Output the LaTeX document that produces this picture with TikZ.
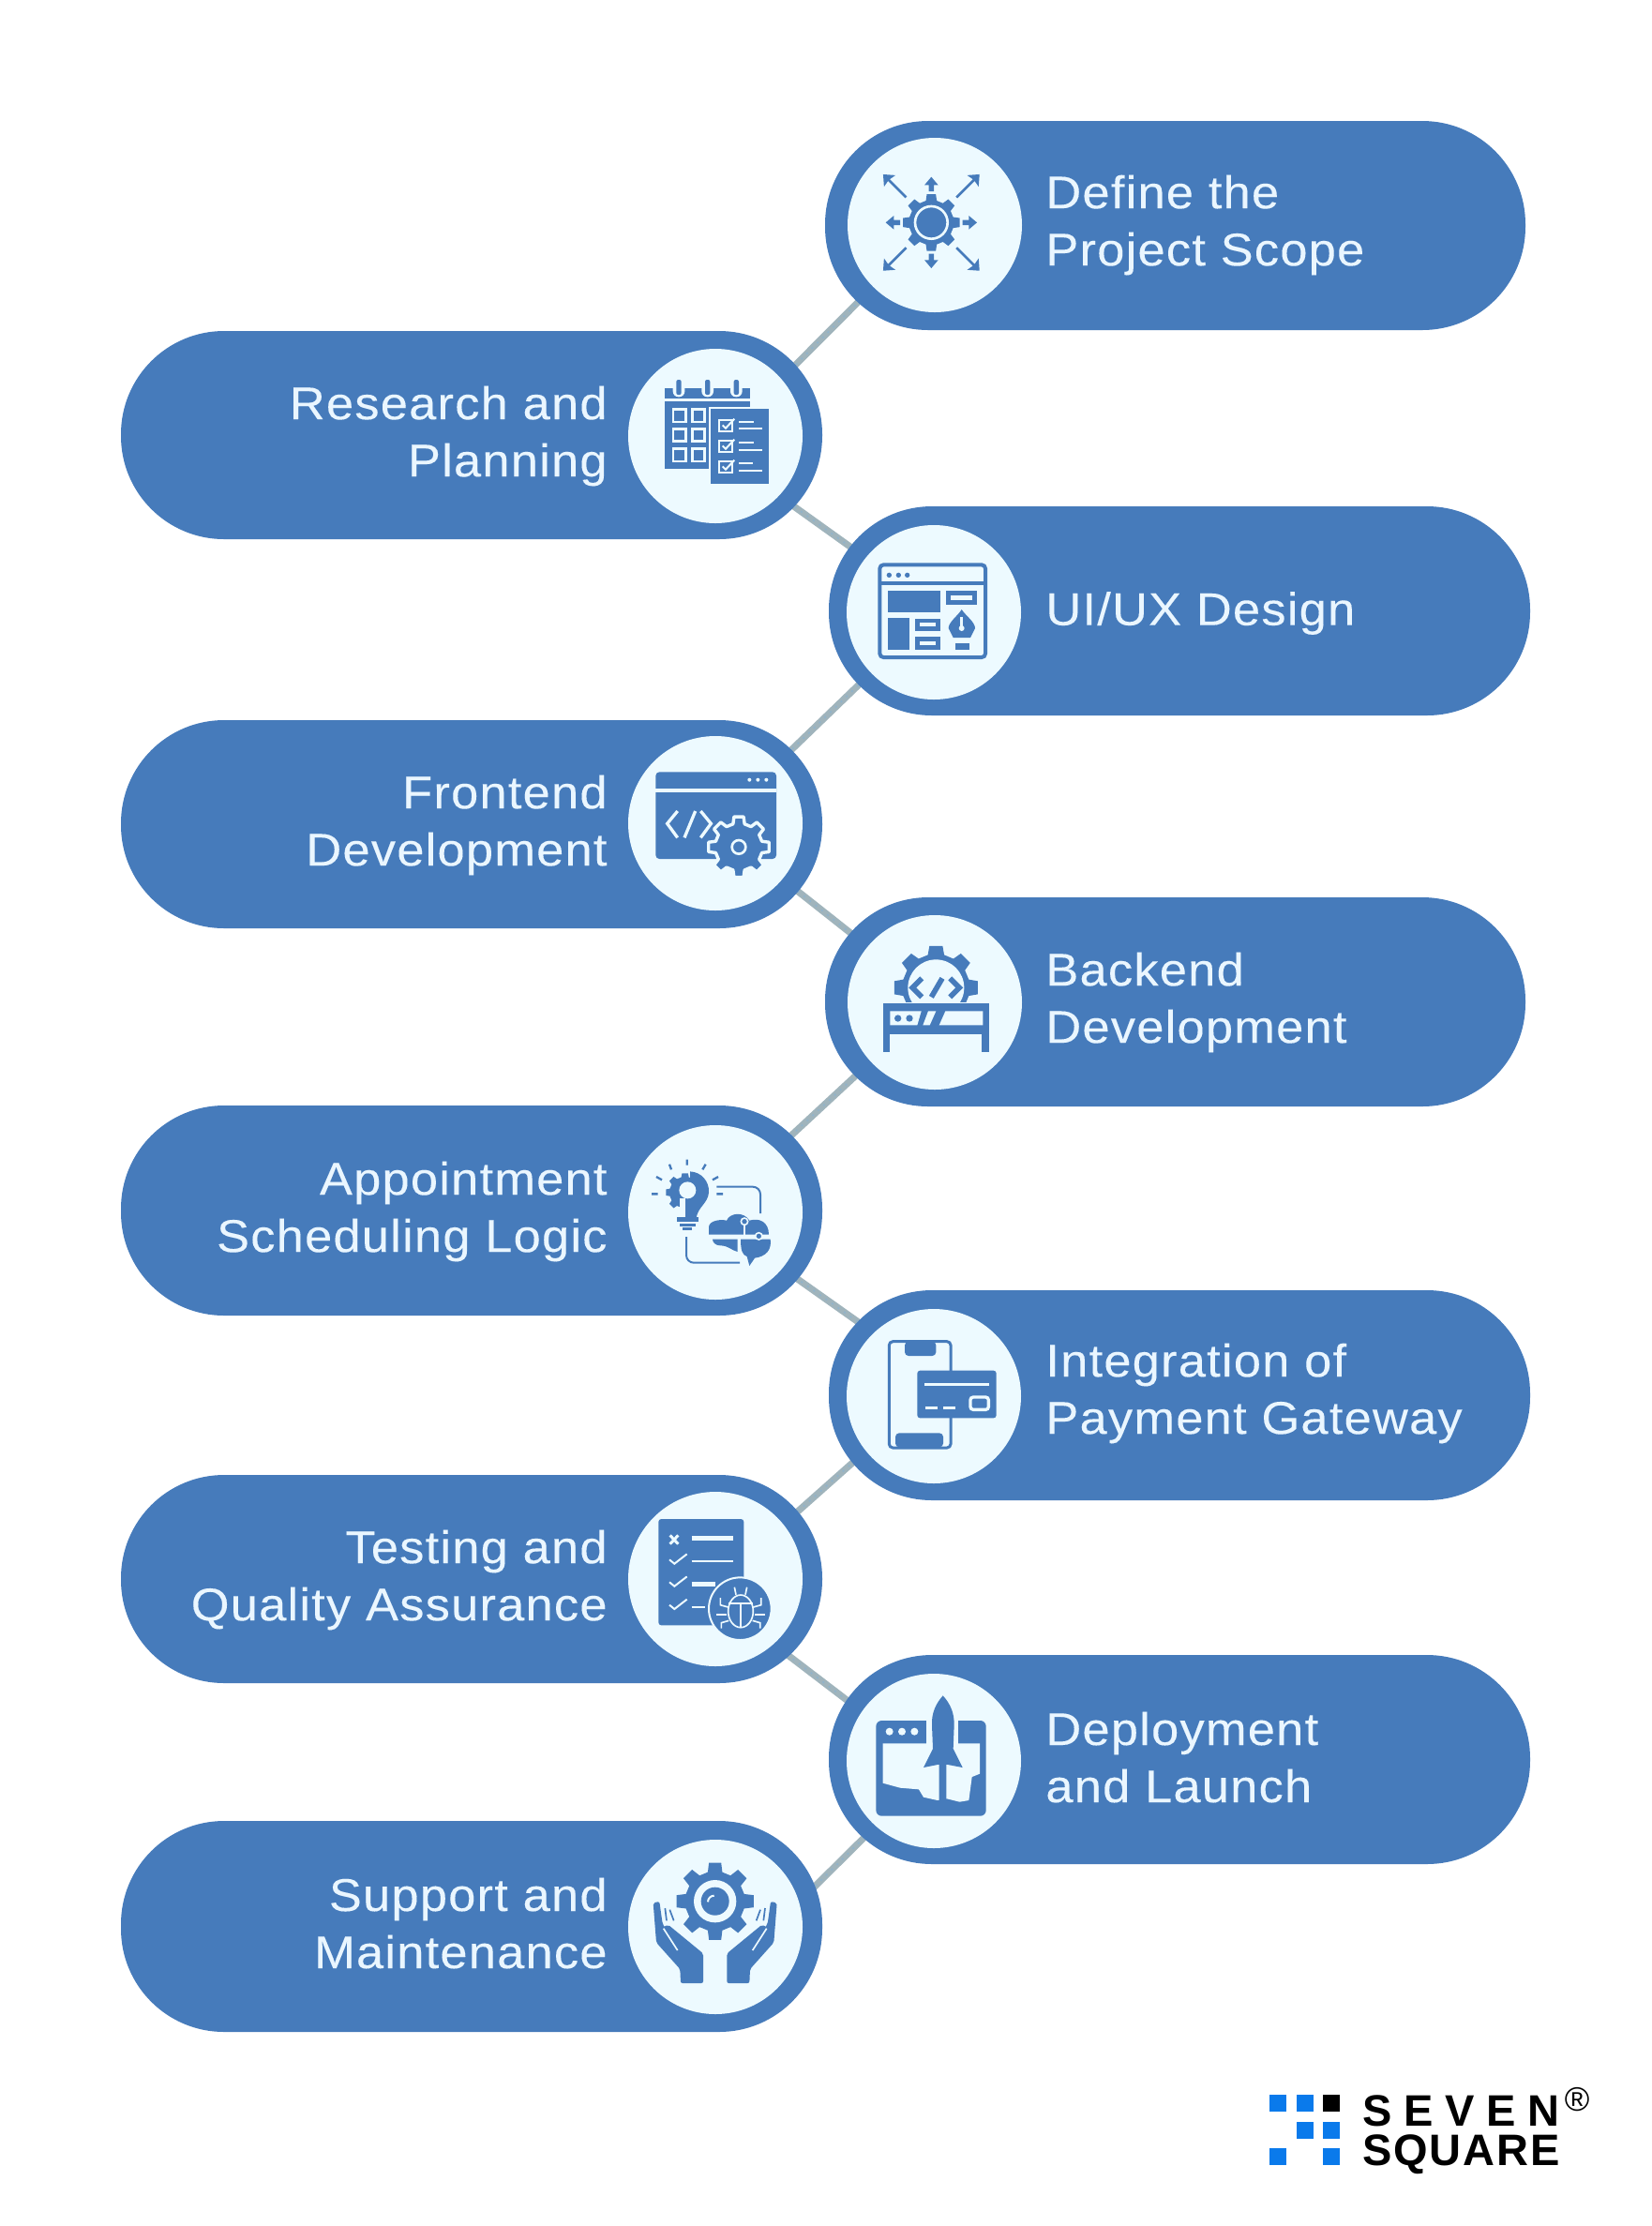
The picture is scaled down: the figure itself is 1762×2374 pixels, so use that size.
\documentclass[tikz,border=0pt]{standalone}
\usepackage{fontspec}
\usetikzlibrary{calc,backgrounds}
\setmainfont{Liberation Sans}[LetterSpace=2.5,FakeStretch=1.07,FakeBold=0.15]
\newfontfamily\logofont{Liberation Sans}
\definecolor{pbl}{HTML}{467BBB}
\definecolor{cb}{HTML}{EDFAFF}
\definecolor{txt}{HTML}{EAF6FF}
\definecolor{lnk}{HTML}{A0B4BC}
\definecolor{lnkd}{HTML}{8FB3CC}
\definecolor{sq}{HTML}{0A7AEB}
\tikzset{
 pill/.style={rectangle,fill=pbl,draw=none,rounded corners=55pt,inner sep=0pt,minimum width=#1},
 disc/.style={circle,fill=cb,draw=none,inner sep=0pt,minimum size=93pt},
 lbl/.style={text=txt,inner sep=0pt,font=\fontsize{24.5}{30.5}\selectfont},
 lbr/.style={lbl,anchor=west,align=left},
 lbll/.style={lbl,anchor=east,align=right},
 conn/.style={draw=lnk,line width=3.6pt,postaction={draw=lnkd,line width=.8pt,dash pattern=on 1pt off 3pt}},
 zm/.style={x=0.16667pt,y=-0.16667pt},
 ic/.style={fill=pbl,draw=none},
 cf/.style={fill=cb,draw=none},
 sb/.style={draw=pbl,line width=#1/6*1pt,fill=none},
 sc/.style={draw=cb,line width=#1/6*1pt,fill=none},
 lsq/.style={fill=sq,draw=none},
 logot/.style={inner sep=0pt,anchor=base west,text=black,font=\logofont\bfseries\fontsize{23.5}{23.5}\selectfont},
}
\newcommand{\gearpath}[5]{%
 ({#1+#4*cos(#5-14)},{#2+#4*sin(#5-14)})
 \foreach \k in {0,...,7}{
  -- ({#1+#4*cos(#5+\k*45-14)},{#2+#4*sin(#5+\k*45-14)})
  -- ({#1+#3*cos(#5+\k*45-9)},{#2+#3*sin(#5+\k*45-9)})
  -- ({#1+#3*cos(#5+\k*45+9)},{#2+#3*sin(#5+\k*45+9)})
  -- ({#1+#4*cos(#5+\k*45+14)},{#2+#4*sin(#5+\k*45+14)})
 } -- cycle}
\begin{document}
\begin{tikzpicture}[x=0.5pt,y=-0.5pt]
\useasboundingbox (0,0) rectangle (1762,2374);
% pills
\node[pill=373.5pt,minimum height=111.5pt] (p1) at (1253.5,240.5) {};
\node[pill=374pt,minimum height=111pt] (p2) at (503,464) {};
\node[pill=374pt,minimum height=111.5pt] (p3) at (1258,651.5) {};
\node[pill=374pt,minimum height=111pt] (p4) at (503,879) {};
\node[pill=373.5pt,minimum height=111.5pt] (p5) at (1253.5,1068.5) {};
\node[pill=374pt,minimum height=112pt] (p6) at (503,1291) {};
\node[pill=374pt,minimum height=112pt] (p7) at (1258,1488) {};
\node[pill=374pt,minimum height=111pt] (p8) at (503,1684) {};
\node[pill=374pt,minimum height=111.5pt] (p9) at (1258,1876.5) {};
\node[pill=374pt,minimum height=112.5pt] (p10) at (503,2054.5) {};
% discs
\node[disc] (c1) at (997,240) {};
\node[disc] (c2) at (763,465) {};
\node[disc] (c3) at (996,653) {};
\node[disc] (c4) at (763,878) {};
\node[disc] (c5) at (997,1069) {};
\node[disc] (c6) at (763,1293) {};
\node[disc] (c7) at (996,1489) {};
\node[disc] (c8) at (763,1684) {};
\node[disc] (c9) at (996,1878) {};
\node[disc] (c10) at (763,2055) {};
% connectors
\begin{pgfonlayer}{background}
\draw[conn] (c1.center) -- ($(c2.center)+(0,10)$);
\draw[conn] ($(c2.center)+(0,15)$) -- ($(c3.center)+(0,-6)$);
\draw[conn] (c3.center) -- (c4.center);
\draw[conn] ($(c4.center)+(0,3)$) -- ($(c5.center)+(0,-3)$);
\draw[conn] (c5.center) -- ($(c6.center)+(0,-7)$);
\draw[conn] ($(c6.center)+(0,9)$) -- ($(c7.center)+(0,-22)$);
\draw[conn] ($(c7.center)+(0,-6)$) -- ($(c8.center)+(0,6)$);
\draw[conn] ($(c8.center)+(0,22)$) -- ($(c9.center)+(0,6)$);
\draw[conn] ($(c9.center)+(0,8)$) -- ($(c10.center)+(0,62)$);
\end{pgfonlayer}
% labels
\node[lbr] (t1) at (1115,240) {Define the\\Project Scope};
\node[lbll] (t2) at (648,465) {Research and\\Planning};
\node[lbr] (t3) at (1115,654) {UI/UX Design};
\node[lbll] (t4) at (648,880) {Frontend\\Development};
\node[lbr] (t5) at (1115,1069) {Backend\\Development};
\node[lbll] (t6) at (648,1292) {Appointment\\Scheduling Logic};
\node[lbr] (t7) at (1115,1486) {Integration of\\Payment Gateway};
\node[lbll] (t8) at (648,1685) {Testing and\\Quality Assurance};
\node[lbr] (t9) at (1115,1874) {Deployment\\and Launch};
\node[lbll] (t10) at (648,2051) {Support and\\Maintenance};
% icon 1
\begin{scope}[shift={(860,110)},zm]
\fill[ic] \gearpath{400}{382}{92}{72}{0};
\draw[sc=8] (400,382) circle (52);
\foreach \a in {0,90,180,270}{
 \begin{scope}[shift={(400,382)},rotate=\a]
 \fill[ic] (-8,-100) -- (-8,-120) -- (-22,-120) -- (0,-146) -- (22,-120) -- (8,-120) -- (8,-100) -- cycle;
 \end{scope}}
\foreach \a in {45,135,225,315}{
 \begin{scope}[shift={(400,382)},rotate=\a]
 \fill[ic] (-4,-114) -- (-4,-192) -- (-26,-188) -- (0,-218) -- (26,-188) -- (4,-192) -- (4,-114) -- cycle;
 \end{scope}}
\end{scope}
% icon 2
\begin{scope}[shift={(640,340)},zm]
\fill[ic] (208,222) rectangle (480,255);
\fill[ic] (208,265) rectangle (480,282);
\fill[ic] (208,265) rectangle (348,480);
\foreach \x in {252,344,436}{
 \fill[cf,rounded corners=3pt] (\x-19,190) rectangle (\x+19,250);
 \fill[ic,rounded corners=1pt] (\x-8,195) rectangle (\x+8,243);
 }
\foreach \x in {254,315}\foreach \y in {310,372,436}{
 \draw[sc=8] (\x-20,\y-20) rectangle (\x+20,\y+20);}
\fill[ic] (355,288) rectangle (541,527);
\foreach \y/\w in {342/0,408/0,474/0}{
 \draw[sc=6] (382,\y-18) rectangle (422,\y+18);
 \draw[sc=6] (392,\y-2) -- (402,\y+8) -- (430,\y-22);
 }
\draw[sc=6] (445,330) -- (492,330) (445,352) -- (520,352);
\draw[sc=6] (445,397) -- (492,397) (445,419) -- (520,419);
\draw[sc=6] (445,463) -- (490,463) (445,485) -- (520,485);
% icon 3
\draw[sb=12,rounded corners=2pt] (895,787) rectangle (1233,1083);
\draw[sb=10] (895,846) -- (1233,846);
\foreach \x in {925,955,983}{\fill[ic] (\x,820) circle (8);}
\fill[ic] (920,870) rectangle (1090,940);
\fill[ic] (920,957) rectangle (990,1060);
\fill[ic] (1107,870) rectangle (1205,914);
\fill[cf] (1122,885) rectangle (1192,899);
\fill[ic] (1007,960) rectangle (1090,998);
\fill[cf] (1022,973) rectangle (1075,985);
\fill[ic] (1007,1018) rectangle (1090,1058);
\fill[cf] (1022,1032) rectangle (1075,1045);
\fill[ic] (1157,930) .. controls (1170,950) and (1200,970) .. (1200,990) -- (1185,1020) -- (1130,1020) -- (1115,990) .. controls (1115,970) and (1145,950) .. (1157,930) -- cycle;
\draw[sc=8] (1157,955) -- (1157,985);
\fill[cf] (1157,990) circle (9);
\fill[ic] (1137,1038) rectangle (1182,1058);
\end{scope}
% icon 4 and 5
\begin{scope}[shift={(640,760)},zm]
\fill[ic,rounded corners=2pt] (178,190) rectangle (564,468);
\draw[sc=12] (178,250) -- (564,250);
\foreach \x in {478,505,532}{\fill[cf] (\x,215) circle (6);}
\draw[sc=10] (248,315) -- (215,355) -- (248,400);
\draw[sc=10] (305,315) -- (270,400);
\draw[sc=10] (322,315) -- (355,355) -- (322,400);
\filldraw[draw=cb,line width=1.7pt,fill=pbl,line join=round] \gearpath{444}{430}{98}{76}{0};
\draw[sc=8] (444,430) circle (22);
% backend
\begin{scope}
\clip (880,730) rectangle (1270,925);
\fill[ic] \gearpath{1075}{880}{135}{108}{0};
\fill[cf] (1075,880) circle (90);
\end{scope}
\draw[sb=17] (1030,850) -- (1000,880) -- (1030,910);
\draw[sb=17] (1095,850) -- (1060,910);
\draw[sb=17] (1120,850) -- (1150,880) -- (1120,910);
\fill[ic] (905,930) rectangle (1245,1030);
\fill[ic] (905,1030) rectangle (928,1085);
\fill[ic] (1222,1030) rectangle (1245,1085);
\fill[cf] (928,955) -- (1028,955) -- (1015,1000) -- (928,1000) -- cycle;
\fill[ic] (953,978) circle (11);
\fill[ic] (990,978) circle (11);
\fill[cf] (1050,955) -- (1075,955) -- (1055,1000) -- (1033,1000) -- cycle;
\fill[cf] (1105,955) -- (1225,955) -- (1225,1000) -- (1085,1000) -- cycle;
\end{scope}
% icon 6 and 7
\begin{scope}[shift={(640,1170)},zm]
\fill[ic] \gearpath{272}{305}{62}{50}{0};
\fill[ic] (288,238) .. controls (325,240) and (350,270) .. (348,305) .. controls (345,340) and (315,350) .. (308,385) -- (265,385) -- (265,340) -- (288,320) -- cycle;
\fill[cf] (280,298) circle (27);
\fill[cf] (255,325) -- (272,325) -- (272,385) -- (255,385) -- cycle;
\fill[ic] (245,385) rectangle (315,398);
\fill[ic] (255,405) rectangle (305,415);
\fill[ic] (265,418) rectangle (295,427);
\draw[sb=7] (165,310) -- (185,310) (180,255) -- (198,265) (222,215) -- (228,232) (278,200) -- (278,218) (338,215) -- (328,232) (378,255) -- (360,265) (373,310) -- (393,310);
\draw[sb=6,rounded corners=4pt] (373,287) -- (513,287) -- (513,372);
\draw[sb=6,rounded corners=4pt] (276,447) -- (276,530) -- (447,530);
\fill[ic] (348,440) -- (348,415) .. controls (350,395) and (385,390) .. (405,395) .. controls (415,370) and (460,365) .. (478,395) .. controls (510,385) and (540,400) .. (540,440) -- cycle;
\fill[ic] (360,455) -- (440,455) -- (440,495) .. controls (420,490) and (410,475) .. (385,475) .. controls (370,475) and (360,465) .. (360,455) -- cycle;
\fill[ic] (450,455) -- (545,455) .. controls (550,490) and (530,510) .. (495,515) -- (478,540) -- (470,510) .. controls (455,505) and (450,490) .. (450,455) -- cycle;
\draw[sc=4] (355,447) -- (545,447) (462,410) -- (462,447) (443,447) -- (443,497);
\filldraw[draw=cb,line width=.8pt,fill=pbl] (462,398) circle (11);
\filldraw[draw=cb,line width=.8pt,fill=pbl] (508,445) circle (11);
% phone
\draw[sb=9,rounded corners=2pt] (925,782) rectangle (1122,1122);
\fill[ic,rounded corners=2pt] (975,782) -- (975,828) -- (1075,828) -- (1075,782) -- cycle;
\fill[ic,rounded corners=2pt] (945,1120) -- (945,1075) -- (1098,1075) -- (1098,1120) -- cycle;
\fill[ic,rounded corners=1.5pt] (1015,875) rectangle (1268,1027);
\draw[sc=10] (1038,920) -- (1245,920);
\draw[sc=10] (1040,995) -- (1080,995) (1098,995) -- (1137,995);
\draw[sc=10,rounded corners=1.5pt] (1185,960) rectangle (1243,1000);
\end{scope}
% icon 8 and 9
\begin{scope}[shift={(640,1570)},zm]
\fill[ic,rounded corners=1.5pt] (187,150) rectangle (460,490);
\draw[sc=9] (224,202) -- (250,230) (250,202) -- (224,230);
\draw[sc=14] (293,211) -- (425,211);
\draw[sc=6] (293,285) -- (425,285);
\draw[sc=14] (293,358) -- (370,358);
\draw[sc=6] (293,432) -- (335,432);
\foreach \y in {280,352,425}{\draw[sc=6] (222,\y) -- (238,\y+13) -- (278,\y-18);}
\filldraw[draw=cb,line width=1pt,fill=pbl] (448,437) circle (100);
\draw[sc=5] (450,445) ellipse (40 and 52);
\draw[sc=5] (410,420) -- (490,420) (450,420) -- (450,495);
\draw[sc=5] (430,368) -- (435,392) (470,368) -- (465,392);
\draw[sc=5] (410,432) -- (385,425) -- (385,402);
\draw[sc=5] (490,432) -- (515,425) -- (515,402);
\draw[sc=5] (405,455) -- (372,455);
\draw[sc=5] (495,455) -- (528,455);
\draw[sc=5] (412,475) -- (388,482) -- (388,500);
\draw[sc=5] (488,475) -- (512,482) -- (512,500);
% deployment
\fill[ic,rounded corners=3pt] (883,795) rectangle (1235,1100);
\fill[cf] (905,868) -- (1215,868) -- (1215,965) -- (1190,975) -- (1180,1050) -- (1150,1055) -- (1110,1045) -- (1080,1050) -- (1035,1040) -- (1020,1015) -- (960,1010) -- (905,995) -- cycle;
\fill[cf] (1045,785) rectangle (1145,870);
\foreach \x in {926,966,1006}{\fill[cf] (\x,830) circle (12);}
\fill[ic] (1097,715) .. controls (1075,740) and (1060,770) .. (1062,810) -- (1065,885) -- (1035,945) -- (1085,935) -- (1085,1055) -- (1108,1055) -- (1108,935) -- (1160,945) -- (1130,885) -- (1133,810) .. controls (1134,770) and (1120,740) .. (1097,715) -- cycle;
\end{scope}
% icon 10
\begin{scope}[shift={(640,1940)},zm]
\fill[ic] \gearpath{368}{263}{125}{96}{0};
\fill[cf] (368,263) circle (68);
\fill[ic] (368,263) circle (45);
\draw[sc=6] (345,265) arc (180:270:20);
\foreach \s in {1,-1}{
\begin{scope}[shift={(368,0)},xscale=\s]
\fill[ic,rounded corners=1pt] (-198,268) -- (-178,264) -- (-168,335) -- (-125,400) -- (-165,345) -- (-150,338) -- (-38,430) -- (-38,525) -- (-110,525) -- (-112,480) -- (-188,395) -- cycle;
\draw[sc=5] (-165,350) -- (-120,420);
\draw[sb=5] (-160,285) -- (-155,325) (-145,290) -- (-132,325);
\end{scope}}
\end{scope}
% logo
\fill[lsq] (1354,2234) rectangle ++(18,18);
\fill[lsq] (1382.5,2234) rectangle ++(18,18);
\fill[black] (1411,2234) rectangle ++(18,18);
\fill[lsq] (1382.5,2262.5) rectangle ++(18,18);
\fill[lsq] (1411,2262.5) rectangle ++(18,18);
\fill[lsq] (1354,2291) rectangle ++(18,18);
\fill[lsq] (1411,2291) rectangle ++(18,18);
\node[logot] (lg1) at (1453,2267) {\hbox to 105pt{S\hfill E\hfill V\hfill E\hfill N}};
\node[logot] (lg2) at (1453,2309) {\hbox to 105pt{S\hfill Q\hfill U\hfill A\hfill R\hfill E}};
\node[inner sep=0pt,text=black,font=\logofont\fontsize{18}{18}\selectfont] (lg3) at (1682,2239) {®};
\end{tikzpicture}
\end{document}
